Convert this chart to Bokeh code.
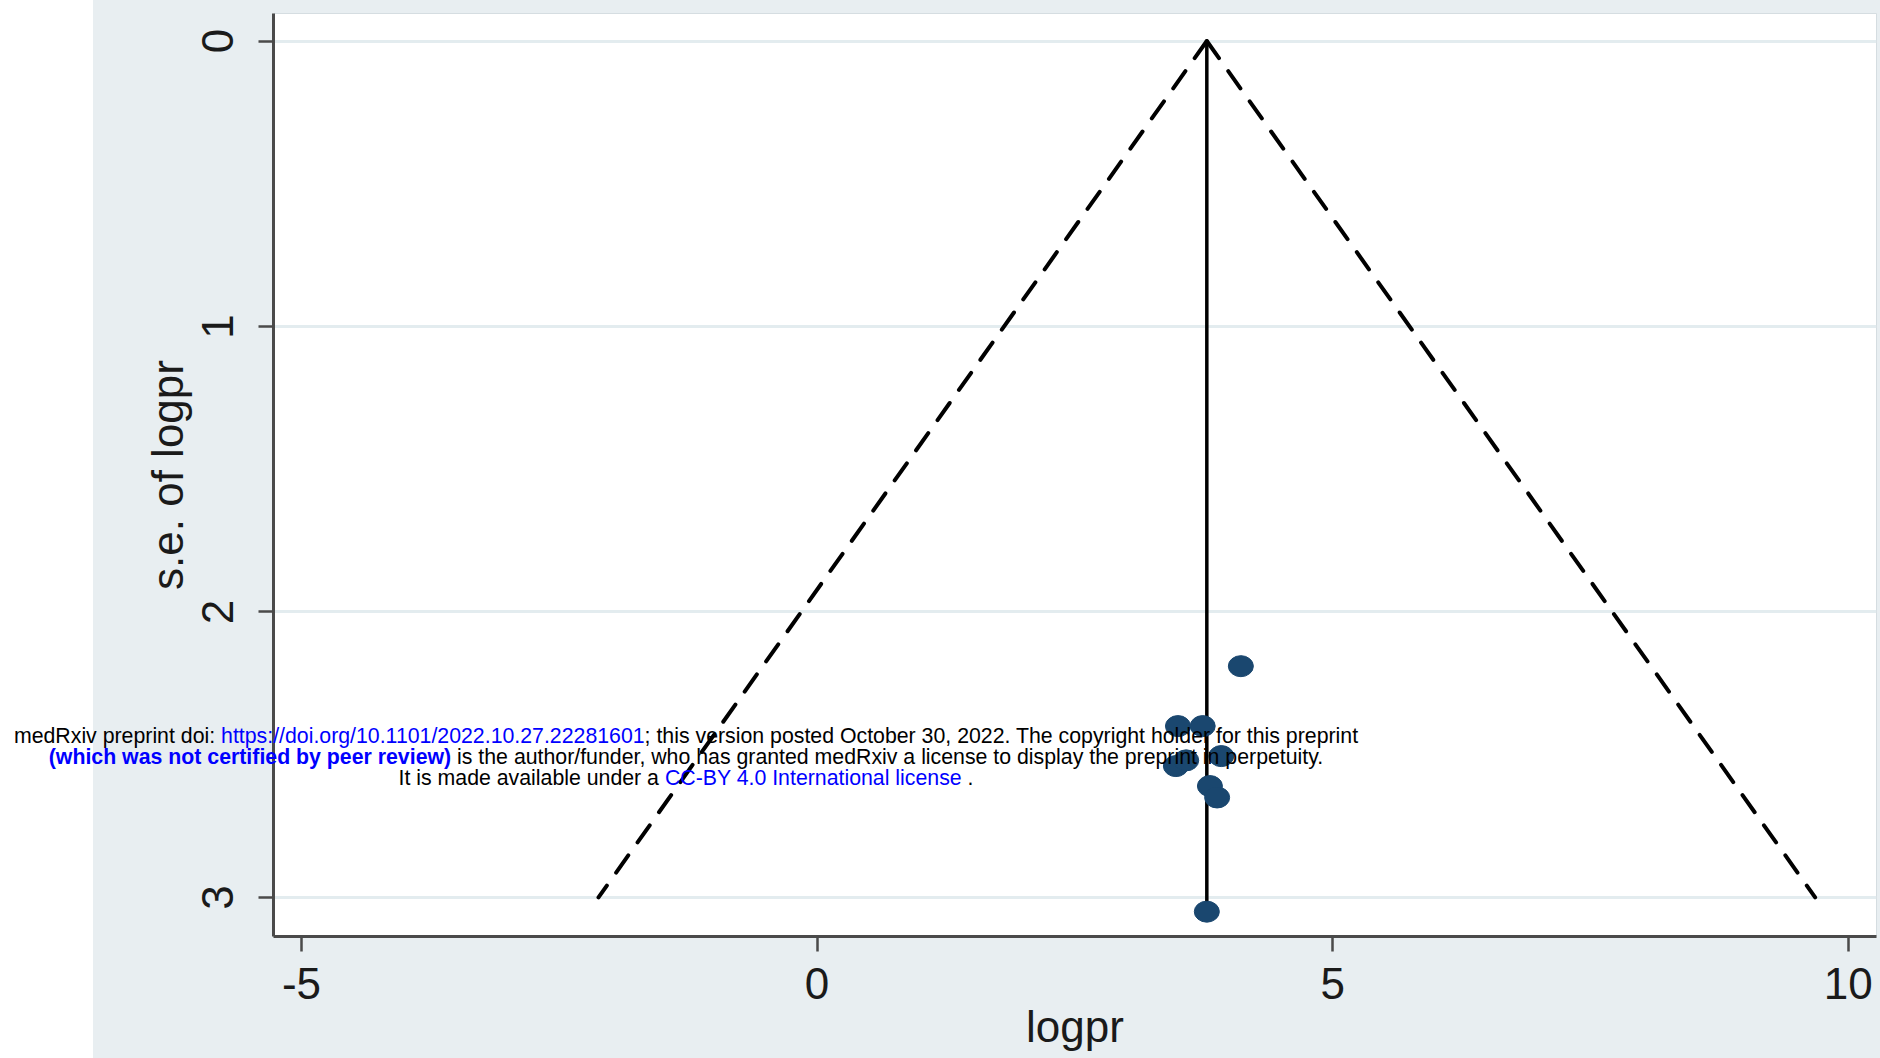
from bokeh.plotting import figure
from bokeh.layouts import column
from bokeh.models import Range1d, FixedTicker, Div
from bokeh.embed import file_html
from bokeh.resources import INLINE

# ---- data ----
logpr = [4.11, 3.50, 3.74, 3.92, 3.48, 3.58, 3.81, 3.88, 3.78]
se_logpr = [2.19, 2.40, 2.40, 2.505, 2.54, 2.52, 2.61, 2.65, 3.05]

pooled_x = [3.78, 3.78]
pooled_se = [0.0, 3.05]
limit_se = [0.0, 3.0]
lower_limit = [3.78, -2.12]
upper_limit = [3.78, 9.68]

x_ticks = [-5, 0, 5, 10]
x_tick_labels = ["-5", "0", "5", "10"]
y_ticks = [0, 1, 2, 3]
x_label = "logpr"
y_label = "s.e. of logpr"

BLUE = "#0000ff"
BLACK = "#000000"
notice_lines = [
    [("medRxiv preprint doi: ", BLACK, "normal"),
     ("https://doi.org/10.1101/2022.10.27.22281601", BLUE, "normal"),
     ("; this version posted October 30, 2022. The copyright holder for this preprint", BLACK, "normal")],
    [("(which was not certified by peer review)", BLUE, "bold"),
     (" is the author/funder, who has granted medRxiv a license to display the preprint in perpetuity.", BLACK, "normal")],
    [("It is made available under a ", BLACK, "normal"),
     ("CC-BY 4.0 International license", BLUE, "normal"),
     (" .", BLACK, "normal")],
]

W, H = 1880, 1058
BG = "#e8eef1"
FRAME_LEFT, FRAME_BOTTOM = 273, 936
FONT = "Liberation Sans"

p = figure(width=W, height=H, output_backend="svg", toolbar_location=None, title=None,
           x_range=Range1d(-5.272, 10.275), y_range=Range1d(3.137, -0.0964),
           min_border_left=FRAME_LEFT, min_border_right=4, min_border_top=13,
           min_border_bottom=H - FRAME_BOTTOM)
p.border_fill_color = None
p.styles = {"background": "linear-gradient(90deg, #ffffff 93px, %s 93px)" % BG}
p.background_fill_color = "#ffffff"
p.outline_line_color = "#d5dde1"
p.outline_line_width = 1

for ax in (p.xaxis[0], p.yaxis[0]):
    ax.axis_line_color = "#4a4a4a"
    ax.axis_line_width = 3
    ax.major_tick_line_color = "#4a4a4a"
    ax.major_tick_line_width = 2.5
    ax.major_tick_out = 15
    ax.major_tick_in = 0
    ax.minor_tick_line_color = None
    ax.major_label_text_font = FONT
    ax.major_label_text_font_size = "44px"
    ax.major_label_text_color = "#1a1a1a"
    ax.axis_label_text_font = FONT
    ax.axis_label_text_font_size = "44px"
    ax.axis_label_text_font_style = "normal"
    ax.axis_label_text_color = "#1a1a1a"

p.xaxis.ticker = FixedTicker(ticks=x_ticks)
p.xaxis.major_label_overrides = {t: s for t, s in zip(x_ticks, x_tick_labels)}
p.yaxis.ticker = FixedTicker(ticks=y_ticks)
p.xaxis.axis_label = x_label
p.yaxis.axis_label = y_label
p.yaxis.major_label_orientation = "vertical"
p.xaxis.major_label_standoff = 16
p.yaxis.major_label_standoff = 25
p.xaxis.axis_label_standoff = 0
p.yaxis.axis_label_standoff = 8

p.xgrid.grid_line_color = None
p.ygrid.ticker = FixedTicker(ticks=y_ticks)
p.ygrid.grid_line_color = "#e3ecef"
p.ygrid.grid_line_width = 3

# pseudo 95% confidence limits
p.line(lower_limit, limit_se, line_color="black", line_width=4, line_dash="21 16",
       line_cap="round")
p.line(upper_limit, limit_se, line_color="black", line_width=4, line_dash="21 16",
       line_cap="round")
# pooled estimate
p.line(pooled_x, pooled_se, line_color="black", line_width=3.5)
# studies
p.ellipse(x=logpr, y=se_logpr, width=25, height=21, width_units="screen",
          height_units="screen", fill_color="#1a476f", line_color="#1a476f")

# ---- medRxiv notice laid over the chart as real HTML text ----
NOTE_TOP, NOTE_H = 726, 66
NOTE_CENTER = 686
rows = []
for segs in notice_lines:
    parts = []
    for t, col, st in segs:
        weight = "bold" if st == "bold" else "normal"
        parts.append('<span style="color:%s;font-weight:%s">%s</span>'
                     % (col, weight, t.replace(" ", "&#32;")))
    rows.append('<div style="height:21px;line-height:21px;">%s</div>' % "".join(parts))
html = ('<div style="width:%dpx;margin:0;padding:0;font-family:\'Liberation Sans\',Arial,sans-serif;'
        'font-size:21.3px;text-align:center;white-space:pre;color:#000;">%s</div>'
        % (2 * NOTE_CENTER, "".join(rows)))
note = Div(text=html, width=2 * NOTE_CENTER, height=NOTE_H,
           margin=(-(H - NOTE_TOP), 0, 0, 0))

layout = column(p, note, spacing=0)
open("out.html", "w").write(file_html(layout, INLINE))
